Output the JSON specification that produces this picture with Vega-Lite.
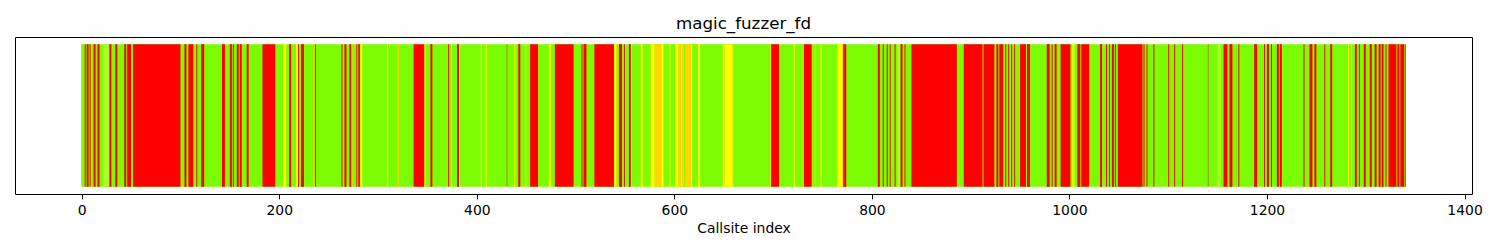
{
  "$schema": "https://vega.github.io/schema/vega-lite/v6.json",
  "width": 1457,
  "height": 157,
  "autosize": {"type": "none"},
  "padding": {"left": 15, "top": 37, "right": 28, "bottom": 56},
  "background": "white",
  "config": {
    "view": {"stroke": "black", "strokeWidth": 1},
    "font": "DejaVu Sans"
  },
  "title": {
    "text": "magic_fuzzer_fd",
    "fontSize": 16.7,
    "fontWeight": "normal",
    "font": "DejaVu Sans",
    "color": "black",
    "anchor": "middle",
    "frame": "group",
    "baseline": "alphabetic",
    "offset": 8,
    "dy": 17
  },
  "data": {
    "values": [
      {"s": -0.5, "e": 1340.5, "c": "lawngreen"},
      {"s": 3, "e": 4, "c": "red"}, {"s": 5, "e": 7, "c": "red"}, {"s": 8, "e": 9, "c": "red"}, {"s": 12, "e": 14, "c": "red"}, {"s": 16, "e": 18, "c": "red"}, {"s": 22, "e": 28, "c": "greenyellow"}, {"s": 28, "e": 30, "c": "red"}, {"s": 34, "e": 36, "c": "red"}, {"s": 43, "e": 45, "c": "red"}, {"s": 46, "e": 50, "c": "red"}, {"s": 52, "e": 100, "c": "red"}, {"s": 104, "e": 106, "c": "red"}, {"s": 108, "e": 113, "c": "red"},
      {"s": 116, "e": 117, "c": "red"}, {"s": 121, "e": 124, "c": "red"}, {"s": 142, "e": 145, "c": "red"}, {"s": 150, "e": 152, "c": "red"}, {"s": 153, "e": 154, "c": "red"}, {"s": 157, "e": 159, "c": "red"}, {"s": 160, "e": 162, "c": "red"}, {"s": 167, "e": 169, "c": "red"}, {"s": 183, "e": 196, "c": "red"}, {"s": 204, "e": 207, "c": "yellow"}, {"s": 210, "e": 212, "c": "red"}, {"s": 217, "e": 219, "c": "yellow"}, {"s": 219, "e": 220, "c": "red"},
      {"s": 222, "e": 225, "c": "red"}, {"s": 235, "e": 236, "c": "yellow"}, {"s": 236, "e": 237, "c": "red"}, {"s": 263, "e": 264, "c": "red"}, {"s": 266, "e": 268, "c": "red"}, {"s": 271, "e": 273, "c": "red"}, {"s": 273, "e": 274, "c": "gold"}, {"s": 278, "e": 279, "c": "red"}, {"s": 280, "e": 282, "c": "red"}, {"s": 282, "e": 284, "c": "yellow"}, {"s": 309, "e": 310, "c": "yellow"}, {"s": 320, "e": 321, "c": "gold"},
      {"s": 336, "e": 347, "c": "red"}, {"s": 347, "e": 348, "c": "yellow"}, {"s": 353, "e": 355, "c": "red"}, {"s": 371, "e": 372, "c": "red"}, {"s": 374, "e": 375, "c": "yellow"}, {"s": 380, "e": 382, "c": "red"}, {"s": 382, "e": 383, "c": "yellow"}, {"s": 404, "e": 405, "c": "yellow"}, {"s": 409, "e": 410, "c": "yellow"}, {"s": 430, "e": 431, "c": "olive"}, {"s": 438, "e": 439, "c": "yellow"}, {"s": 442, "e": 444, "c": "red"},
      {"s": 449, "e": 450, "c": "yellow"}, {"s": 454, "e": 462, "c": "red"}, {"s": 473, "e": 475, "c": "yellow"}, {"s": 479, "e": 498, "c": "red"}, {"s": 506, "e": 507, "c": "red"}, {"s": 508, "e": 511, "c": "red"}, {"s": 519, "e": 539, "c": "red"}, {"s": 539, "e": 541, "c": "yellow"}, {"s": 541, "e": 542, "c": "gold"}, {"s": 544, "e": 547, "c": "red"}, {"s": 549, "e": 550, "c": "red"}, {"s": 550, "e": 551, "c": "gold"}, {"s": 554, "e": 556, "c": "red"}, {"s": 556, "e": 557, "c": "yellow"},
      {"s": 566, "e": 568, "c": "yellow"}, {"s": 576, "e": 580, "c": "yellow"}, {"s": 580, "e": 587, "c": "gold"}, {"s": 587, "e": 589, "c": "yellow"}, {"s": 595, "e": 596, "c": "yellow"}, {"s": 601, "e": 604, "c": "yellow"}, {"s": 604, "e": 607, "c": "gold"}, {"s": 607, "e": 608, "c": "yellow"}, {"s": 608, "e": 610, "c": "gold"}, {"s": 611, "e": 617, "c": "gold"}, {"s": 617, "e": 618, "c": "yellow"}, {"s": 624, "e": 626, "c": "yellow"}, {"s": 649, "e": 650, "c": "yellow"}, {"s": 650, "e": 651, "c": "gold"}, {"s": 651, "e": 659, "c": "yellow"}, {"s": 659, "e": 660, "c": "gold"},
      {"s": 697, "e": 698, "c": "gold"}, {"s": 698, "e": 706, "c": "red"}, {"s": 721, "e": 722, "c": "yellow"}, {"s": 730, "e": 731, "c": "yellow"}, {"s": 731, "e": 739, "c": "red"}, {"s": 742, "e": 743, "c": "gold"}, {"s": 748, "e": 749, "c": "yellow"}, {"s": 765, "e": 770, "c": "yellow"}, {"s": 770, "e": 771, "c": "gold"}, {"s": 771, "e": 774, "c": "red"},
      {"s": 806, "e": 808, "c": "red"}, {"s": 811, "e": 812, "c": "red"}, {"s": 815, "e": 816, "c": "red"}, {"s": 818, "e": 819, "c": "red"}, {"s": 823, "e": 824, "c": "red"}, {"s": 826, "e": 829, "c": "greenyellow"}, {"s": 829, "e": 831, "c": "red"}, {"s": 833, "e": 834, "c": "red"}, {"s": 840, "e": 886, "c": "red"}, {"s": 893, "e": 912, "c": "red"},
      {"s": 913, "e": 924, "c": "red"}, {"s": 926, "e": 928, "c": "red"}, {"s": 929, "e": 933, "c": "red"}, {"s": 935, "e": 936, "c": "red"}, {"s": 938, "e": 939, "c": "red"}, {"s": 941, "e": 942, "c": "red"}, {"s": 944, "e": 945, "c": "red"}, {"s": 950, "e": 956, "c": "red"}, {"s": 957, "e": 960, "c": "red"}, {"s": 977, "e": 980, "c": "red"}, {"s": 982, "e": 983, "c": "red"}, {"s": 985, "e": 987, "c": "red"}, {"s": 991, "e": 1001, "c": "red"}, {"s": 1003, "e": 1005, "c": "yellow"}, {"s": 1008, "e": 1011, "c": "red"}, {"s": 1012, "e": 1020, "c": "red"},
      {"s": 1031, "e": 1033, "c": "red"}, {"s": 1037, "e": 1038, "c": "red"}, {"s": 1040, "e": 1041, "c": "red"}, {"s": 1043, "e": 1045, "c": "red"}, {"s": 1046, "e": 1047, "c": "red"}, {"s": 1049, "e": 1074, "c": "red"}, {"s": 1075, "e": 1076, "c": "red"}, {"s": 1078, "e": 1079, "c": "red"}, {"s": 1085, "e": 1086, "c": "red"}, {"s": 1100, "e": 1101, "c": "red"}, {"s": 1106, "e": 1107, "c": "red"}, {"s": 1114, "e": 1115, "c": "red"},
      {"s": 1140, "e": 1141, "c": "olive"}, {"s": 1150, "e": 1153, "c": "greenyellow"}, {"s": 1156, "e": 1160, "c": "red"}, {"s": 1162, "e": 1165, "c": "red"}, {"s": 1171, "e": 1172, "c": "red"}, {"s": 1187, "e": 1190, "c": "red"}, {"s": 1197, "e": 1198, "c": "red"}, {"s": 1200, "e": 1202, "c": "red"}, {"s": 1204, "e": 1205, "c": "red"}, {"s": 1210, "e": 1212, "c": "red"}, {"s": 1213, "e": 1215, "c": "red"}, {"s": 1237, "e": 1238, "c": "red"},
      {"s": 1243, "e": 1246, "c": "red"}, {"s": 1248, "e": 1250, "c": "red"}, {"s": 1258, "e": 1259, "c": "red"}, {"s": 1264, "e": 1266, "c": "red"}, {"s": 1282, "e": 1283, "c": "yellow"}, {"s": 1285, "e": 1286, "c": "yellow"}, {"s": 1289, "e": 1291, "c": "red"}, {"s": 1293, "e": 1294, "c": "red"}, {"s": 1298, "e": 1300, "c": "red"}, {"s": 1304, "e": 1306, "c": "red"}, {"s": 1309, "e": 1311, "c": "red"}, {"s": 1313, "e": 1315, "c": "red"}, {"s": 1316, "e": 1318, "c": "red"}, {"s": 1320, "e": 1321, "c": "red"}, {"s": 1323, "e": 1331, "c": "red"}, {"s": 1332, "e": 1334, "c": "red"}, {"s": 1335, "e": 1339, "c": "red"}, {"s": 1339.8, "e": 1340.5, "c": "red"}
    ]
  },
  "mark": {"type": "bar", "strokeWidth": 0},
  "encoding": {
    "x": {
      "field": "s",
      "type": "quantitative",
      "scale": {"domain": [-67.55, 1407.55], "nice": false, "zero": false},
      "axis": {
        "title": "Callsite index",
        "values": [0, 200, 400, 600, 800, 1000, 1200, 1400],
        "format": "d",
        "grid": false,
        "domain": false,
        "tickColor": "black",
        "tickSize": 4.9,
        "tickWidth": 1,
        "labelPadding": 5,
        "labelFontSize": 13.9,
        "labelFont": "DejaVu Sans",
        "labelColor": "black",
        "titleFontSize": 13.9,
        "titleFont": "DejaVu Sans",
        "titleFontWeight": "normal",
        "titleColor": "black",
        "titlePadding": 4
      }
    },
    "x2": {"field": "e"},
    "y": {
      "datum": 0,
      "type": "quantitative",
      "scale": {"domain": [-0.05, 1.05], "nice": false, "zero": false},
      "axis": null
    },
    "y2": {"datum": 1},
    "color": {
      "field": "c",
      "type": "nominal",
      "scale": {
        "domain": ["lawngreen", "red", "yellow", "gold", "olive", "greenyellow"],
        "range": ["#7CFC00", "#FF0000", "#FFFF00", "#FFD700", "#9C8C00", "#ADFF2F"]
      },
      "legend": null
    }
  }
}
